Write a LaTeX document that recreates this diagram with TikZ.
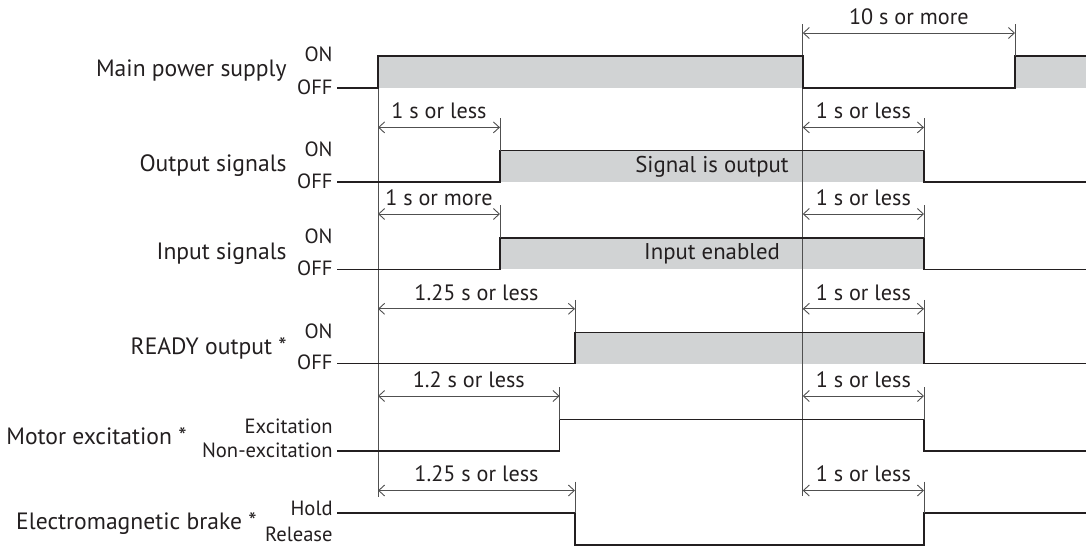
\documentclass[tikz,border=0pt]{standalone}
\usepackage{fontspec}
\setmainfont{PT Sans}
\usepackage{xcolor}
\usepackage{tikz}
\usetikzlibrary{arrows.meta,calc}
\definecolor{LineaSenal}{RGB}{35,31,32}
\definecolor{GrisRelleno}{RGB}{209,211,212}
\definecolor{GrisGuia}{RGB}{80,80,80}

\begin{document}
\begin{tikzpicture}[x=0.5pt,y=-0.5pt,
  senal/.style={line width=0.8pt,color=LineaSenal},
  guia/.style={line width=0.45pt,color=GrisGuia},
  cota/.style={guia,{Straight Barb[length=3pt,width=5.5pt]}-{Straight Barb[length=3pt,width=5.5pt]}},
  nombre/.style={font=\fontsize{11.8}{13}\selectfont,anchor=east,inner sep=0pt,text=LineaSenal},
  estado/.style={font=\fontsize{10.3}{12}\selectfont,anchor=east,inner sep=0pt,text=LineaSenal},
  tiempo/.style={font=\fontsize{11.1}{13}\selectfont,anchor=base,yshift=4.3pt,inner sep=0pt,text=LineaSenal},
  dentro/.style={font=\fontsize{11.4}{13}\selectfont,inner sep=0pt,text=LineaSenal}]
  \useasboundingbox (0,0) rectangle (1086,546);
  % instants (px)
  \def\tIni{337}\def\tOn{378}\def\tSal{500}\def\tExc{559.6}\def\tListo{575}
  \def\tOff{802.7}\def\tFin{924}\def\tRe{1015}\def\tEnd{1086}

  % grey areas
  \fill[GrisRelleno] (\tOn,56) rectangle (\tOff,88);
  \fill[GrisRelleno] (\tRe,56) rectangle (\tEnd,88);
  \fill[GrisRelleno] (\tSal,150.6) rectangle (\tFin,181.8);
  \fill[GrisRelleno] (\tSal,238.2) rectangle (\tFin,269.3);
  \fill[GrisRelleno] (\tListo,332.4) rectangle (\tFin,363.5);

  % guide lines
  \draw[guia] (\tOn,56) -- (\tOn,497);
  \draw[guia] (\tOff,24) -- (\tOff,496);

  % main power supply
  \node[nombre] (mps) at (287,71) {Main power supply};
  \node[estado] (on1) at (333,54.5) {ON};
  \node[estado] (off1) at (333,87) {OFF};
  \draw[senal] (\tIni,88) -- (\tOn,88) -- (\tOn,56) -- (\tOff,56) -- (\tOff,88) -- (\tRe,88) -- (\tRe,56) -- (\tEnd,56);
  \draw[cota] (\tOff,33) -- (\tRe,33) node[tiempo,midway] (d0) {10 s or more};
  \draw[guia] (\tRe,24) -- (\tRe,56);

  % output signals
  \node[nombre] (osig) at (287,166) {Output signals};
  \node[estado] (on2) at (333,149) {ON};
  \node[estado] (off2) at (333,181) {OFF};
  \draw[senal] (\tIni,181.8) -- (\tSal,181.8) -- (\tSal,150.6) -- (\tFin,150.6) -- (\tFin,181.8) -- (\tEnd,181.8);
  \node[dentro] (sout) at (712,166.5) {Signal is output};
  \draw[cota] (\tOn,127.4) -- (\tSal,127.4) node[tiempo,midway] (d1) {1 s or less};
  \draw[guia] (\tSal,118.4) -- (\tSal,150.6);

  % input signals
  \node[nombre] (isig) at (287,254) {Input signals};
  \node[estado] (on3) at (333,236.5) {ON};
  \node[estado] (off3) at (333,268.5) {OFF};
  \draw[senal] (\tIni,269.3) -- (\tSal,269.3) -- (\tSal,238.2) -- (\tFin,238.2) -- (\tFin,269.3) -- (\tEnd,269.3);
  \node[dentro] (ien) at (712,254) {Input enabled};
  \draw[cota] (\tOn,214) -- (\tSal,214) node[tiempo,midway] (d2) {1 s or more};
  \draw[guia] (\tSal,205) -- (\tSal,238.2);

  % READY output
  \node[nombre] (rdy) at (287,348) {READY output *};
  \node[estado] (on4) at (333,331) {ON};
  \node[estado] (off4) at (333,362.5) {OFF};
  \draw[senal] (\tIni,363.5) -- (\tListo,363.5) -- (\tListo,332.4) -- (\tFin,332.4) -- (\tFin,363.5) -- (\tEnd,363.5);
  \draw[cota] (\tOn,308.8) -- (\tListo,308.8) node[tiempo,midway] (d3) {1.25 s or less};
  \draw[guia] (\tListo,299.8) -- (\tListo,332.4);

  % motor excitation
  \node[nombre] (mexc) at (187,436) {Motor excitation *};
  \node[estado] (exc) at (333,426) {Excitation};
  \node[estado] (nexc) at (333,450) {Non-excitation};
  \draw[senal] (\tIni,451) -- (\tExc,451) -- (\tExc,419.5) -- (\tFin,419.5) -- (\tFin,451) -- (\tEnd,451);
  \draw[cota] (\tOn,396) -- (\tExc,396) node[tiempo,midway] (d4) {1.2 s or less};
  \draw[guia] (\tExc,387) -- (\tExc,419.5);

  % electromagnetic brake
  \node[nombre] (brk) at (257,524) {Electromagnetic brake *};
  \node[estado] (hold) at (333,508) {Hold};
  \node[estado] (rel) at (333,534.5) {Release};
  \draw[senal] (\tIni,513) -- (\tListo,513) -- (\tListo,545) -- (\tFin,545) -- (\tFin,513) -- (\tEnd,513);
  \draw[cota] (\tOn,490.5) -- (\tListo,490.5) node[tiempo,midway] (d5) {1.25 s or less};
  \draw[guia] (\tListo,481.5) -- (\tListo,513);

  % switching off: 1 s or less
  \foreach \y/\h [count=\i] in {127.4/150.6,214/238.2,308.8/332.4,396/419.5,490.5/513}{
    \draw[cota] (\tOff,\y) -- (\tFin,\y) node[tiempo,midway] (fin\i) {1 s or less};
    \draw[guia] (\tFin,\y-9) -- (\tFin,\h);
  }
\end{tikzpicture}
\end{document}
